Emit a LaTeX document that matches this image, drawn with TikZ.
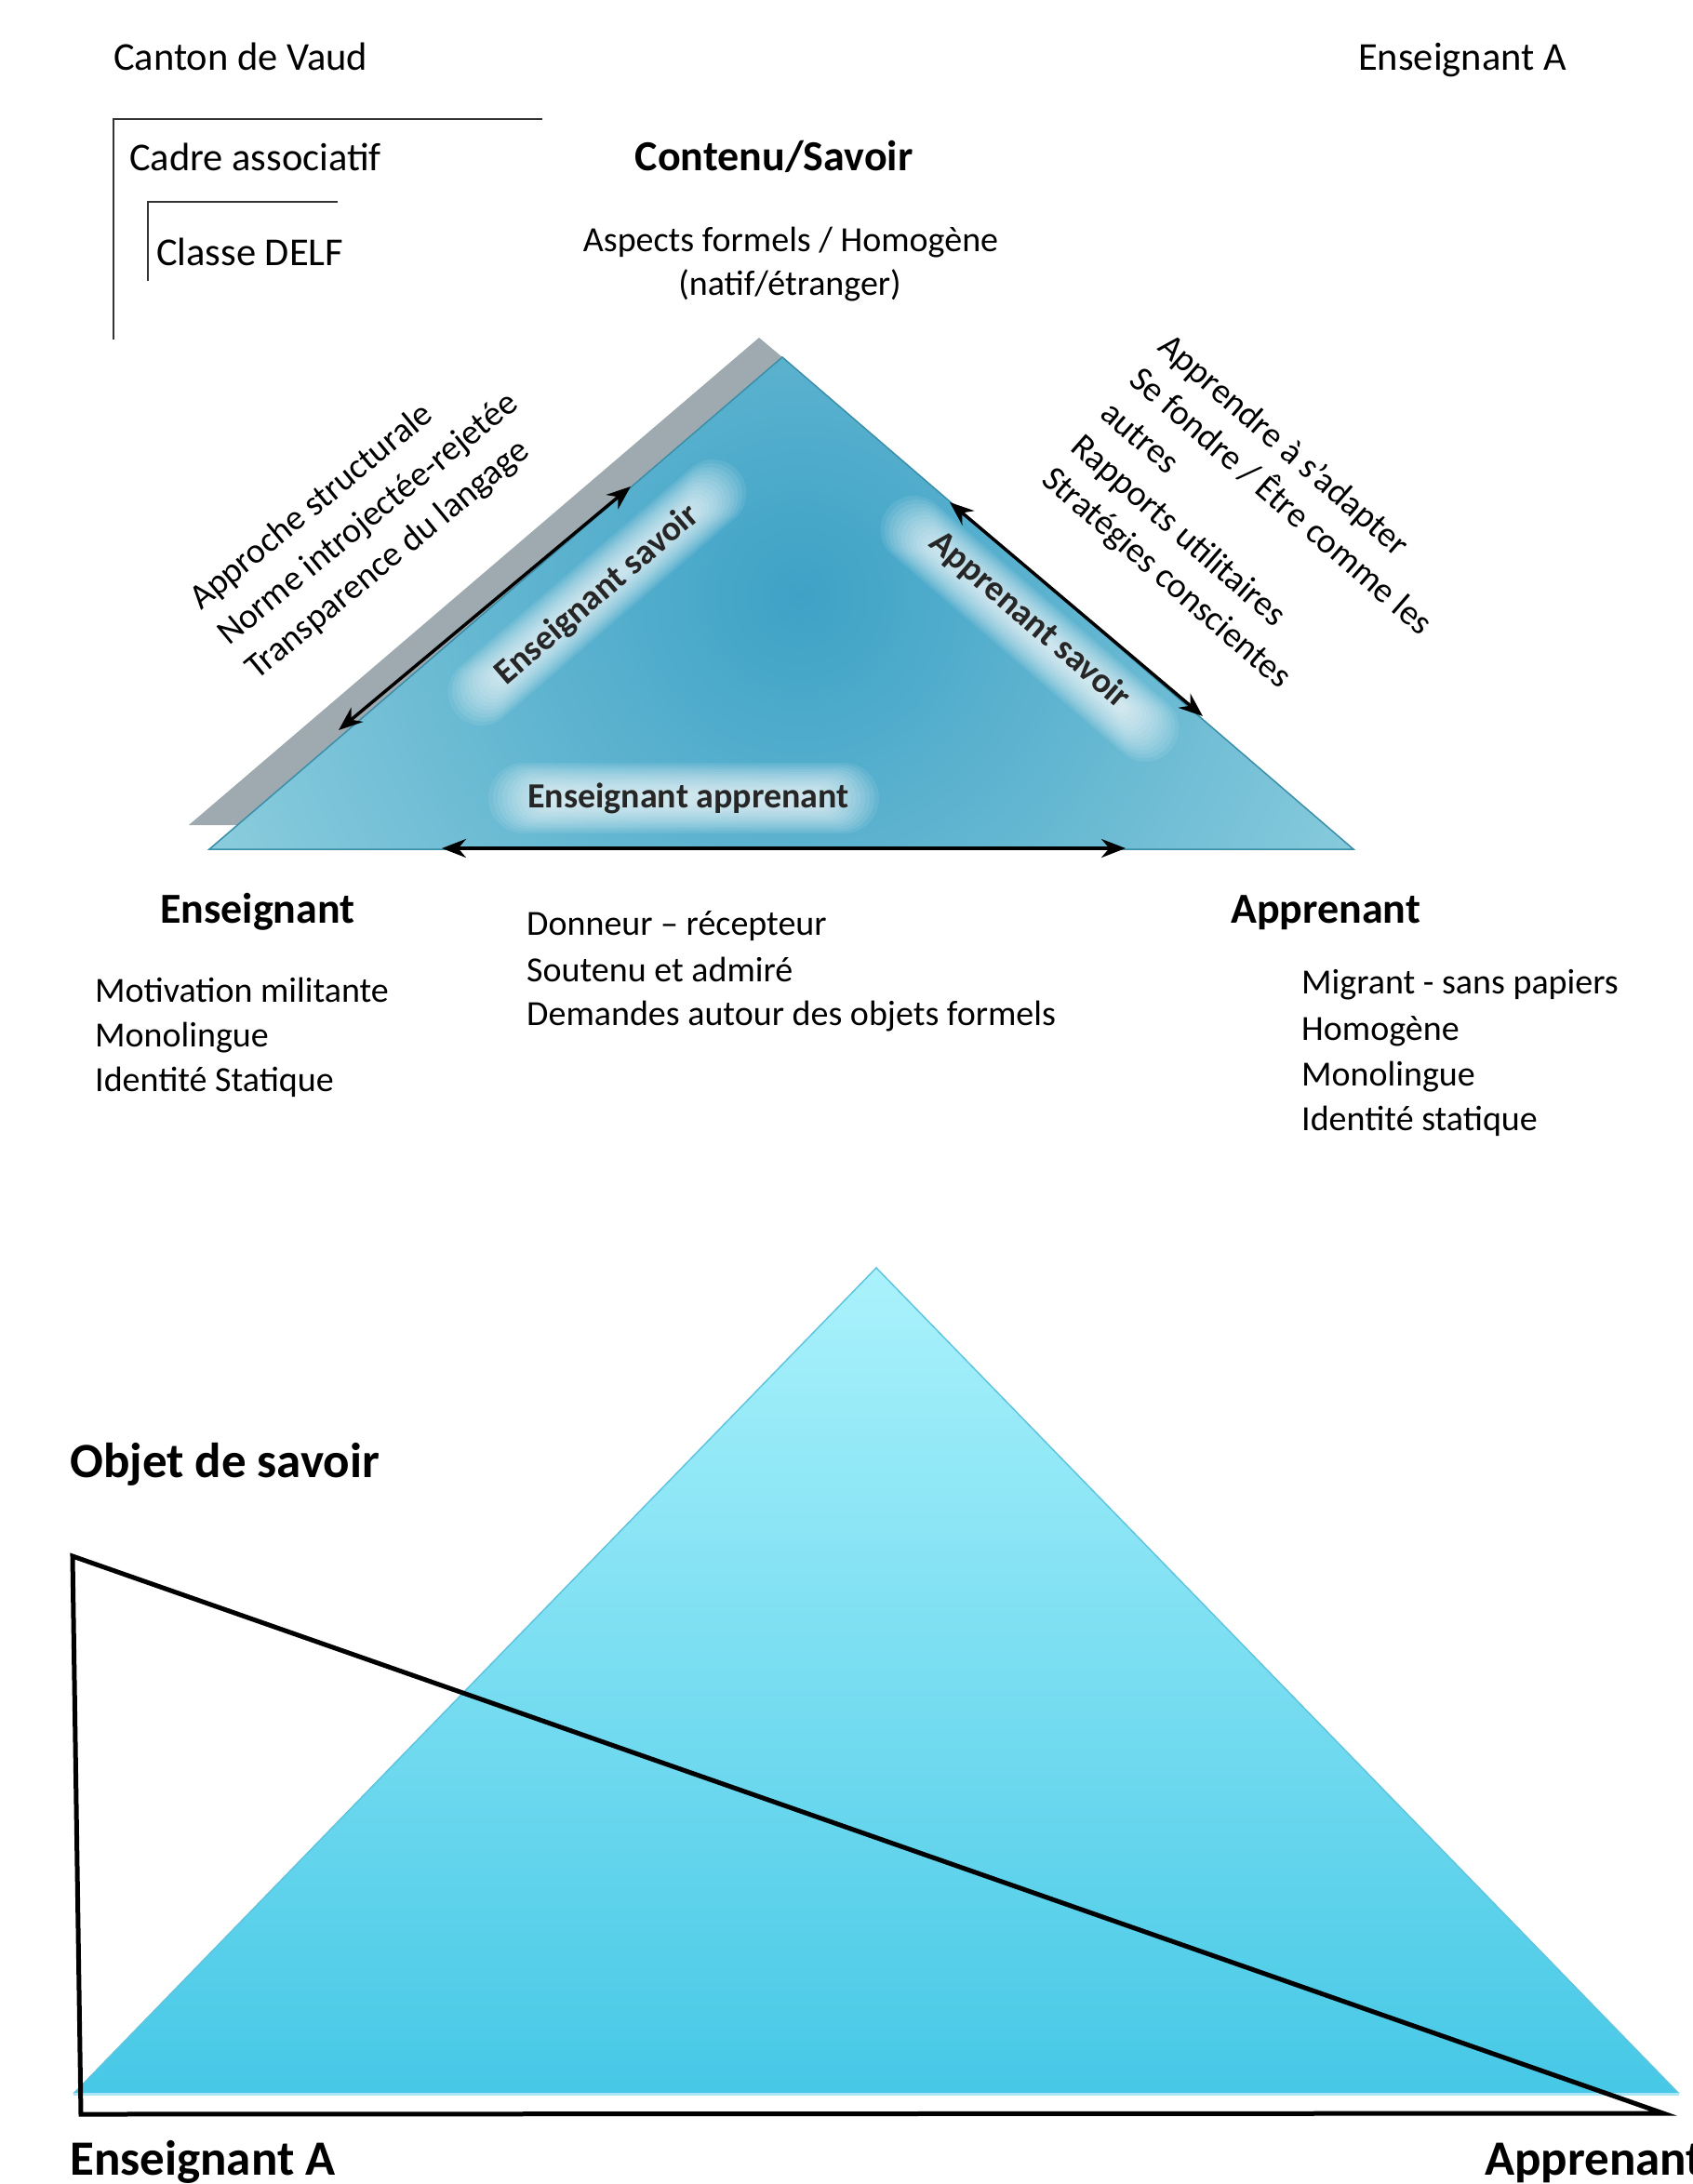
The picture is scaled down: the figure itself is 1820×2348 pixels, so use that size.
\documentclass[tikz,border=0pt]{standalone}
\usepackage{fontspec}
\setmainfont{Carlito}
\usetikzlibrary{arrows.meta}
\definecolor{tgray}{RGB}{158,170,175}
\definecolor{tin}{RGB}{62,162,198}
\definecolor{tout}{RGB}{142,206,222}
\definecolor{tedge}{RGB}{58,142,168}
\definecolor{btop}{RGB}{170,242,252}
\definecolor{bbot}{RGB}{70,200,230}
\definecolor{bedge}{RGB}{96,196,222}
\newcommand\glowbar[5]{%
  \begin{scope}[shift={(#1,#2)}, rotate=#3]
    \foreach \k in {0,...,13}{%
      \pgfmathsetmacro\glw{#4-\k*5}%
      \pgfmathsetmacro\glh{#5-\k*2.4}%
      \fill[white, fill opacity=0.085, rounded corners=\glh pt] (-\glw,-\glh) rectangle (\glw,\glh);
    }
  \end{scope}}
\begin{document}
\begin{tikzpicture}[x=1pt,y=-1pt,
  lbl/.style={inner sep=0pt, font=\fontsize{38}{46}\selectfont, anchor=base west},
  hdr/.style={inner sep=0pt, font=\fontsize{46}{55}\selectfont\bfseries, anchor=base west},
  toplbl/.style={inner sep=0pt, font=\fontsize{42.5}{50}\selectfont, anchor=base west},
  big/.style={inner sep=0pt, font=\fontsize{53}{64}\selectfont\bfseries, anchor=base west},
  glowtxt/.style={inner sep=0pt, font=\fontsize{38}{46}\selectfont\bfseries, text=black!85},
  dbl/.style={{Stealth[length=26pt,width=20pt]}-{Stealth[length=26pt,width=20pt]}, line width=3.5pt},
  frameline/.style={line width=2.5pt, draw=black!80},
  blackline/.style={line width=5pt, draw=black, line join=miter},
]
\fill[white] (0,0) rectangle (1820,2348);
\useasboundingbox (0,0) rectangle (1820,2348);

% ---------- top diagram ----------
\node[toplbl] (canton) at (122,75) {Canton de Vaud};
\node[toplbl] (ensAtop) at (1460,75) {Enseignant A};
\node[toplbl] (cadre) at (139,183) {Cadre associatif};
\node[toplbl] (classe) at (168,285) {Classe DELF};
\coordinate (f1a) at (583,128); \coordinate (f1b) at (122,128); \coordinate (f1c) at (122,365);
\coordinate (f2a) at (363,217); \coordinate (f2b) at (159,217); \coordinate (f2c) at (159,302);
\draw[frameline] (f1a) -- (f1b) -- (f1c);
\draw[frameline] (f2a) -- (f2b) -- (f2c);

\node[hdr, anchor=base] (contenu) at (832,183) {Contenu/Savoir};
\node[lbl, anchor=base] (aspects) at (850,270) {Aspects formels / Homogène};
\node[lbl, anchor=base] (natif) at (849,317) {(natif/étranger)};

% triangle
\coordinate (A) at (841,384);
\coordinate (B) at (225,913);
\coordinate (C) at (1455,913);
\coordinate (G) at (816,363);
\coordinate (GL) at (203,887);
\coordinate (GR) at (900,887);
\fill[tgray] (G) -- (GL) -- (GR) -- (A) -- cycle;
\begin{scope}
  \clip (A) -- (B) -- (C) -- cycle;
  \shade[inner color=tin, outer color=tout] (860,640) circle (720);
\end{scope}
\draw[tedge, line width=1.5pt] (A) -- (B) -- (C) -- cycle;

% glows and inner labels
\glowbar{642}{637}{40.7}{200}{36}
\glowbar{1107}{676}{-40.7}{200}{36}
\glowbar{735}{858}{0}{210}{38}
\node[glowtxt, rotate=40.7] (es) at (642,640) {Enseignant savoir};
\node[glowtxt, rotate=-40.7] (as) at (1107,667) {Apprenant savoir};
\node[glowtxt] (ea) at (740,858) {Enseignant apprenant};

% arrows
\coordinate (la1) at (364,785); \coordinate (la2) at (678,523);
\coordinate (ra1) at (1021,540); \coordinate (ra2) at (1293,770);
\coordinate (ba1) at (475,912); \coordinate (ba2) at (1210,912);
\draw[dbl] (la1) -- (la2);
\draw[dbl] (ra1) -- (ra2);
\draw[dbl] (ba1) -- (ba2);

% rotated side texts
\node[lbl, rotate=39.5] (lt1) at (216,657) {Approche structurale};
\node[lbl, rotate=39.5] (lt2) at (246,695) {Norme introjectée-rejetée};
\node[lbl, rotate=39.5] (lt3) at (276,732) {Transparence du langage};

\node[lbl, rotate=-41] (rt1) at (1243,375) {Apprendre à s’adapter};
\node[lbl, rotate=-41] (rt2) at (1212,411) {Se fondre / Être comme les};
\node[lbl, rotate=-41] (rt3) at (1181,447) {autres};
\node[lbl, rotate=-41] (rt4) at (1149,483) {Rapports utilitaires};
\node[lbl, rotate=-41] (rt5) at (1118,518) {Stratégies conscientes};

% bottom texts of top diagram
\node[hdr] (ens) at (172,992) {Enseignant};
\node[hdr] (app) at (1323,992) {Apprenant};
\node[lbl] (m1) at (566,1005) {Donneur – récepteur};
\node[lbl] (m2) at (566,1055) {Soutenu et admiré};
\node[lbl] (m3) at (566,1102) {Demandes autour des objets formels};
\node[lbl] (e1) at (102,1077) {Motivation militante};
\node[lbl] (e2) at (102,1125) {Monolingue};
\node[lbl] (e3) at (102,1173) {Identité Statique};
\node[lbl] (a1) at (1399,1068) {Migrant - sans papiers};
\node[lbl] (a2) at (1399,1118) {Homogène};
\node[lbl] (a3) at (1399,1167) {Monolingue};
\node[lbl] (a4) at (1399,1215) {Identité statique};

% ---------- bottom diagram ----------
\coordinate (P) at (942,1363);
\coordinate (Q) at (79,2251);
\coordinate (R) at (1805,2251);
\shade[top color=btop, bottom color=bbot] (P) -- (Q) -- (R) -- cycle;
\draw[bedge, line width=1.5pt] (Q) -- (P) -- (R);
\draw[white!55!bbot, line width=3pt] (Q) -- (R);

\coordinate (K1) at (78,1673);
\coordinate (K2) at (87,2273);
\coordinate (K3) at (1788,2272);
\draw[blackline] (K1) -- (K2) -- (K3) -- cycle;

\node[big] (obj) at (75,1588) {Objet de savoir};
\node[big] (ensAbot) at (75,2338) {Enseignant A};
\node[big] (appbot) at (1596,2338) {Apprenant};
\end{tikzpicture}
\end{document}
